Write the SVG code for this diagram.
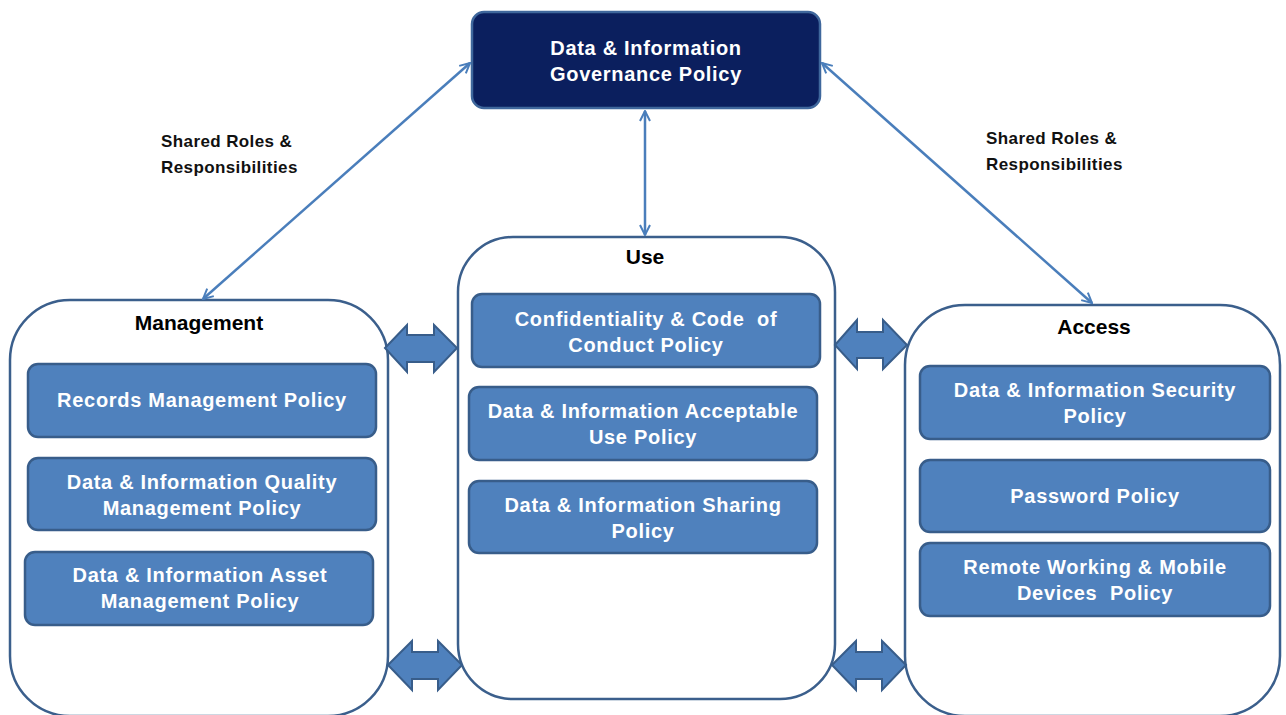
<svg xmlns="http://www.w3.org/2000/svg" width="1286" height="715" viewBox="0 0 1286 715">
<defs>
<marker id="chev" viewBox="0 0 12 12" refX="11" refY="6" markerWidth="12" markerHeight="12" markerUnits="userSpaceOnUse" orient="auto-start-reverse">
<path d="M1,1 L11,6 L1,11" fill="none" stroke="#4a7ebb" stroke-width="2"/>
</marker>
<style>
.cont{fill:#ffffff;stroke:#3b5f8c;stroke-width:2.5}
.pol{fill:#4f81bd;stroke:#385d8a;stroke-width:2.5}
.pt{fill:#ffffff;font-family:"Liberation Sans",Arial,sans-serif;font-weight:bold;font-size:20px;letter-spacing:0.7px;text-anchor:middle;white-space:pre}
.ttl{fill:#000000;font-family:"Liberation Sans",Arial,sans-serif;font-weight:bold;font-size:21px;text-anchor:middle}
.lbl{fill:#111111;font-family:"Liberation Sans",Arial,sans-serif;font-weight:bold;font-size:17px;letter-spacing:0.4px}
.ln{stroke:#4a7ebb;stroke-width:2.5;fill:none}
.blk{fill:#4f81bd;stroke:#385d8a;stroke-width:2}
</style>
</defs>
<rect width="1286" height="715" fill="#ffffff"/>

<g id="management">
<rect class="cont" x="10" y="300" width="378" height="416" rx="60"/>
<text class="ttl" x="199" y="330">Management</text>
</g>
<g id="use">
<rect class="cont" x="458" y="237" width="377" height="462" rx="55"/>
<text class="ttl" x="645" y="264">Use</text>
</g>
<g id="access">
<rect class="cont" x="905" y="305" width="375" height="411" rx="60"/>
<text class="ttl" x="1094" y="334">Access</text>
</g>

<g id="governance">
<rect x="472" y="12" width="348" height="96" rx="12" fill="#0b1f5e" stroke="#3f679c" stroke-width="2.5"/>
<text class="pt" x="646" y="55">Data &amp; Information</text>
<text class="pt" x="646" y="81">Governance Policy</text>
</g>

<g id="records"><rect class="pol" x="28" y="364" width="348" height="73" rx="10"/><text class="pt" x="202" y="407">Records Management Policy</text></g>
<g id="quality"><rect class="pol" x="28" y="458" width="348" height="72" rx="10"/><text class="pt" x="202" y="489">Data &amp; Information Quality</text><text class="pt" x="202" y="515">Management Policy</text></g>
<g id="asset"><rect class="pol" x="25" y="552" width="348" height="73" rx="10"/><text class="pt" x="200" y="582">Data &amp; Information Asset</text><text class="pt" x="200" y="608">Management Policy</text></g>

<g id="confidentiality"><rect class="pol" x="472" y="294" width="348" height="73" rx="10"/><text class="pt" x="646" y="326">Confidentiality &amp; Code  of</text><text class="pt" x="646" y="352">Conduct Policy</text></g>
<g id="acceptable"><rect class="pol" x="469" y="387" width="348" height="73" rx="10"/><text class="pt" x="643" y="418">Data &amp; Information Acceptable</text><text class="pt" x="643" y="444">Use Policy</text></g>
<g id="sharing"><rect class="pol" x="469" y="481" width="348" height="72" rx="10"/><text class="pt" x="643" y="512">Data &amp; Information Sharing</text><text class="pt" x="643" y="538">Policy</text></g>

<g id="security"><rect class="pol" x="920" y="366" width="350" height="73" rx="10"/><text class="pt" x="1095" y="397">Data &amp; Information Security</text><text class="pt" x="1095" y="423">Policy</text></g>
<g id="password"><rect class="pol" x="920" y="460" width="350" height="72" rx="10"/><text class="pt" x="1095" y="503">Password Policy</text></g>
<g id="remote"><rect class="pol" x="920" y="543" width="350" height="73" rx="10"/><text class="pt" x="1095" y="574">Remote Working &amp; Mobile</text><text class="pt" x="1095" y="600">Devices  Policy</text></g>

<g id="connectors">
<line class="ln" x1="470" y1="63" x2="203" y2="299" marker-start="url(#chev)" marker-end="url(#chev)"/>
<line class="ln" x1="822" y1="63" x2="1092" y2="303" marker-start="url(#chev)" marker-end="url(#chev)"/>
<line class="ln" x1="645" y1="111" x2="645" y2="235" marker-start="url(#chev)" marker-end="url(#chev)"/>
<path class="blk" d="M385,348 L407,325 L407,335 L434,335 L434,325 L457,348 L434,372 L434,362 L407,362 L407,372 Z"/>
<path class="blk" d="M388,665 L412,641 L412,652 L438,652 L438,641 L462,665 L438,690 L438,679 L412,679 L412,690 Z"/>
<path class="blk" d="M835,345 L857,320 L857,332 L883,332 L883,320 L907,345 L883,369 L883,358 L857,358 L857,369 Z"/>
<path class="blk" d="M832,665 L856,641 L856,652 L882,652 L882,641 L906,665 L882,690 L882,679 L856,679 L856,690 Z"/>
</g>

<g id="labels">
<text class="lbl" x="161" y="147">Shared Roles &amp;</text>
<text class="lbl" x="161" y="173">Responsibilities</text>
<text class="lbl" x="986" y="144">Shared Roles &amp;</text>
<text class="lbl" x="986" y="170">Responsibilities</text>
</g>
</svg>
